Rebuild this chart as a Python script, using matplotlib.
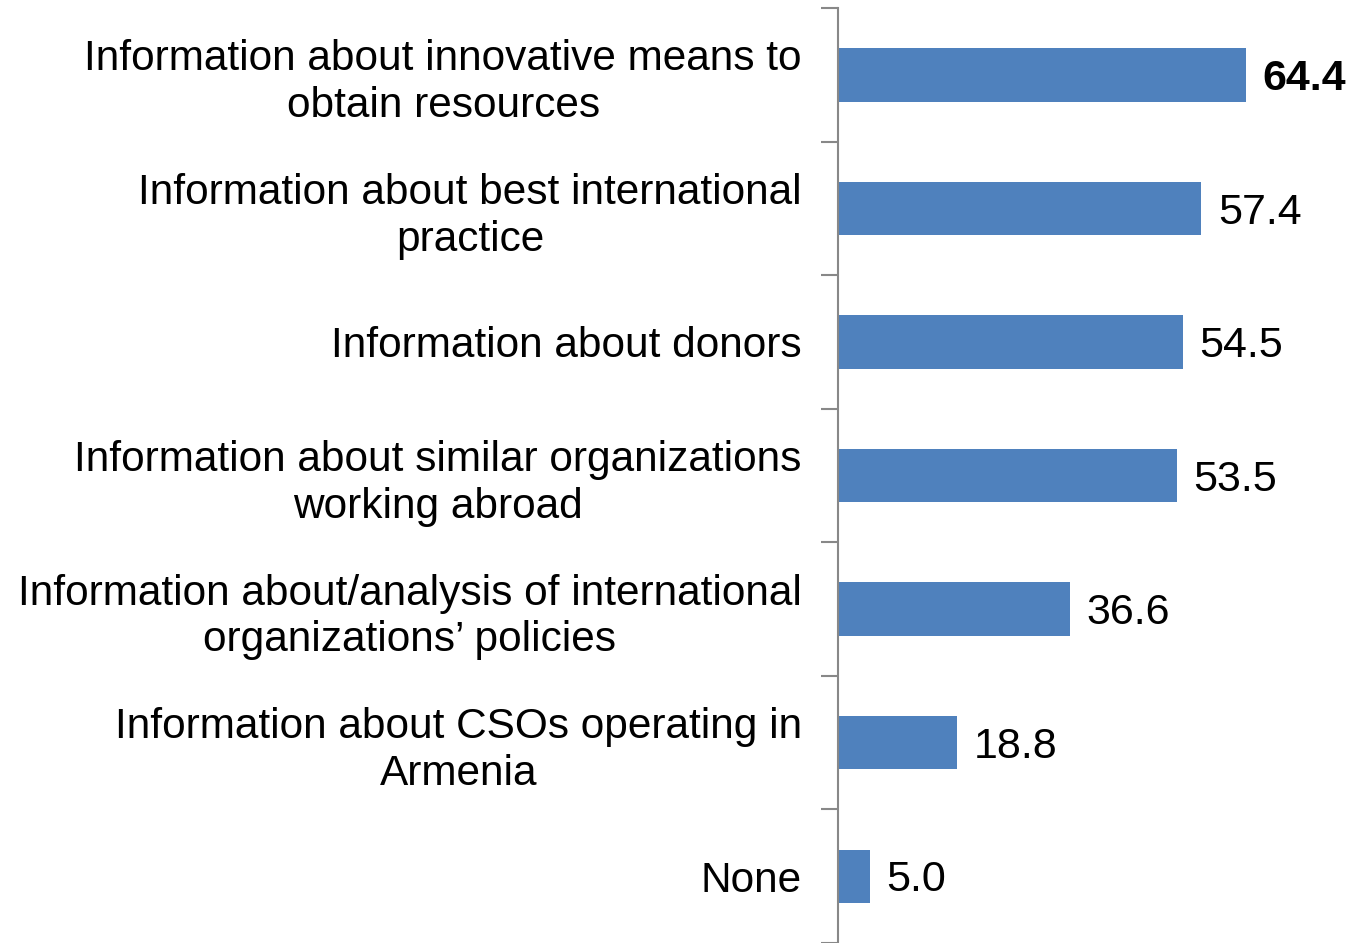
import matplotlib.pyplot as plt
import numpy as np

categories = [
    "Information about innovative means to\nobtain resources",
    "Information about best international\npractice",
    "Information about donors",
    "Information about similar organizations\nworking abroad",
    "Information about/analysis of international\norganizations\u2019 policies",
    "Information about CSOs operating in\nArmenia",
    "None",
]
values = [64.4, 57.4, 54.5, 53.5, 36.6, 18.8, 5.0]

plt.rcParams['font.family'] = ['Liberation Sans', 'DejaVu Sans']

fig = plt.figure(figsize=(13.5, 9.43), dpi=100)
ax = fig.add_axes([0.6207, 0.0, 0.3752, 0.9915])

y = np.arange(len(categories))
ax.barh(y, values, height=0.4, color='#4F81BD')

for i, v in enumerate(values):
    weight = 'bold' if i == 0 else 'normal'
    ax.annotate(f"{v:.1f}", xy=(v, i), xytext=(12, -3), textcoords='offset points',
                va='center', ha='left', fontsize=31, fontweight=weight, color='black')

ax.set_xlim(0, 80)
ax.set_ylim(len(categories) - 0.5, -0.5)

ax.set_yticks(y)
ax.set_yticklabels(categories, fontsize=30.5, multialignment='center', linespacing=1.22)
ax.tick_params(axis='y', which='major', length=0, pad=26)
ax.set_yticks(np.arange(len(categories) + 1) - 0.5, minor=True)
ax.tick_params(axis='y', which='minor', length=12, width=1.5, color='#888888')
ax.set_xticks([])

for side in ['top', 'right', 'bottom']:
    ax.spines[side].set_visible(False)
ax.spines['left'].set_color('#888888')
ax.spines['left'].set_linewidth(1.5)

fig.savefig('out.png', dpi=100)
